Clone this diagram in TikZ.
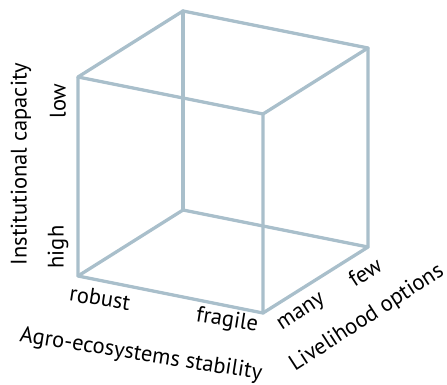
\documentclass[tikz,border=0pt]{standalone}
\usepackage{fontspec}
\setmainfont{PT Sans}
\definecolor{edge}{HTML}{A9BFCB}
\begin{document}
\begin{tikzpicture}[x=1pt,y=-1pt,
  edgeline/.style={draw=edge,line width=3.3pt,line cap=round,line join=round},
  lbl/.style={font=\fontsize{22.5}{26}\selectfont,inner sep=0pt,text=black}]
\useasboundingbox (0,0) rectangle (447,385);
\coordinate (FTL) at (78,77);
\coordinate (BTL) at (183,11);
\coordinate (BTR) at (368,48);
\coordinate (FTR) at (263,114);
\coordinate (FBL) at (78,276);
\coordinate (FBR) at (263,313);
\coordinate (BBL) at (183,210);
\coordinate (BBR) at (368,247);
\draw[edgeline] (BTL) -- (BBL);
\draw[edgeline] (BBL) -- (BBR);
\draw[edgeline] (BBL) -- (FBL);
\draw[edgeline] (FTL) -- (BTL) -- (BTR) -- (FTR) -- cycle;
\draw[edgeline] (FTL) -- (FBL) -- (FBR) -- (FTR);
\draw[edgeline] (BTR) -- (BBR) -- (FBR);
\node[lbl,rotate=90] (ic) at (21,164) {Institutional capacity};
\node[lbl,rotate=90] (low) at (58,101) {low};
\node[lbl,rotate=90] (high) at (58,247) {high};
\node[lbl,rotate=-9] (rob) at (100,298) {robust};
\node[lbl,rotate=-9] (fra) at (227,321) {fragile};
\node[lbl,rotate=-9] (agro) at (141,355) {Agro-ecosystems stability};
\node[lbl,rotate=33] (many) at (302,313) {many};
\node[lbl,rotate=33] (few) at (365,272) {few};
\node[lbl,rotate=33] (liv) at (367,318) {Livelihood options};
\end{tikzpicture}
\end{document}
